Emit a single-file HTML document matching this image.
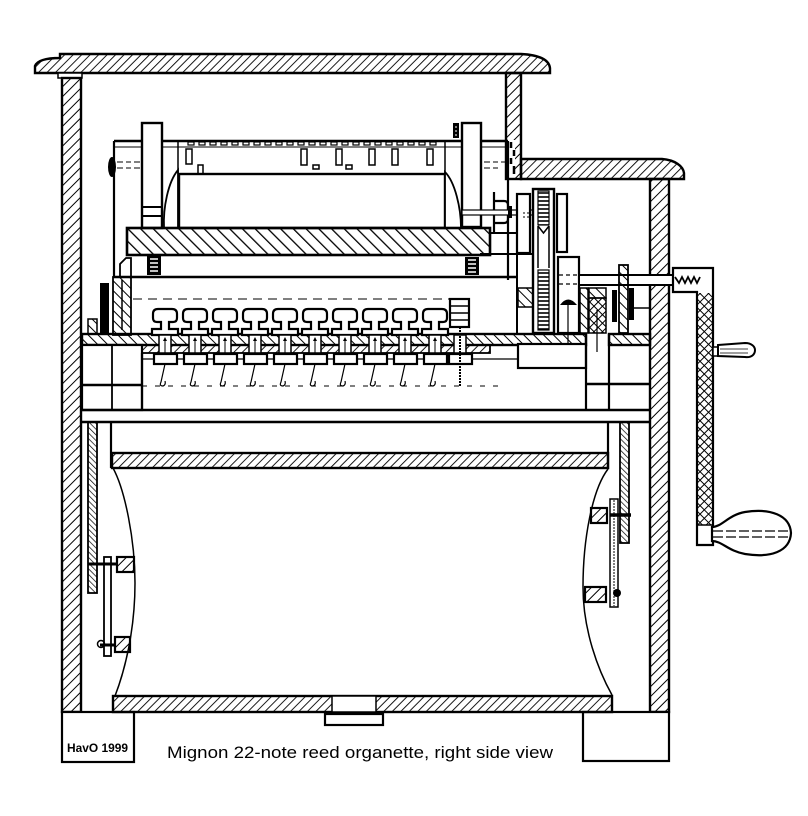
<!DOCTYPE html>
<html><head><meta charset="utf-8"><style>html,body{margin:0;padding:0;background:#fff}svg{display:block}</style></head>
<body>
<svg width="808" height="816" viewBox="0 0 808 816" xmlns="http://www.w3.org/2000/svg">
<defs>
<pattern id="hR" width="6" height="6" patternUnits="userSpaceOnUse" patternTransform="rotate(45)"><line x1="0" y1="0" x2="0" y2="6" stroke="#000" stroke-width="1.8"/></pattern>
<pattern id="hW" width="7" height="7" patternUnits="userSpaceOnUse" patternTransform="rotate(45)"><line x1="0" y1="0" x2="0" y2="7" stroke="#000" stroke-width="2"/></pattern>
<pattern id="hL" width="7" height="7" patternUnits="userSpaceOnUse" patternTransform="rotate(-45)"><line x1="0" y1="0" x2="0" y2="7" stroke="#000" stroke-width="2"/></pattern>
<pattern id="hB" width="9" height="9" patternUnits="userSpaceOnUse" patternTransform="rotate(-45)"><line x1="0" y1="0" x2="0" y2="9" stroke="#000" stroke-width="2.6"/></pattern>
<pattern id="hS" width="4" height="4" patternUnits="userSpaceOnUse" patternTransform="rotate(-45)"><line x1="0" y1="0" x2="0" y2="4" stroke="#000" stroke-width="1.4"/></pattern>
<pattern id="hX" width="6" height="6" patternUnits="userSpaceOnUse" patternTransform="rotate(45)"><path d="M0,0 V6 M0,0 H6" stroke="#000" stroke-width="2"/></pattern>
<pattern id="coil" width="4" height="4" patternUnits="userSpaceOnUse"><line x1="0" y1="1" x2="4" y2="1" stroke="#000" stroke-width="1.6"/></pattern>
<g id="col">
  <path d="M-12,314 Q-12,309 -7,309 L7,309 Q12,309 12,314 L12,318 Q12,322 8,322 L4,322 L4,329 L13,329 L13,335 L-13,335 L-13,329 L-4,329 L-4,322 L-8,322 Q-12,322 -12,318 Z" fill="#fff" stroke="#000" stroke-width="2.2"/>
  <rect x="-6" y="335" width="12" height="18" fill="#fff" stroke="#000" stroke-width="1.5"/>
  <line x1="0" y1="338" x2="0" y2="360" stroke="#000" stroke-width="1"/>
  <path d="M-2,341 L0,337 L2,341 Z" fill="#000"/>
  <rect x="-11" y="354" width="23" height="10" fill="#fff" stroke="#000" stroke-width="2.2"/>
  <path d="M0,364 L-4,382 Q-6,386 -2,386 Q1,385 0,381" fill="none" stroke="#000" stroke-width="1.2"/>
</g>
</defs>

<!-- top lid -->
<path d="M60,54 L521,54 C540,55 549,60 550,68 L550,73 L35,73 L35,66 C37,61 45,58 60,58 Z" fill="url(#hR)" stroke="#000" stroke-width="2.4"/>
<rect x="58" y="73" width="24" height="5" fill="#fff" stroke="#000" stroke-width="1.5"/>
<!-- left wall -->
<rect x="62" y="78" width="19" height="634" fill="url(#hW)" stroke="#000" stroke-width="2.4"/>
<!-- upper right wall -->
<rect x="506" y="73" width="15" height="106" fill="url(#hW)" stroke="#000" stroke-width="2.4"/>
<rect x="509" y="140" width="6" height="36" fill="#fff"/>
<path d="M511,142 v6 M514,150 v6 M511,158 v6 M514,166 v8" stroke="#000" stroke-width="2.5"/>
<!-- second lid -->
<path d="M521,159 L662,159 C675,160 683,166 684,173 L684,179 L521,179 Z" fill="url(#hR)" stroke="#000" stroke-width="2.4"/>
<!-- right lower wall -->
<rect x="650" y="179" width="19" height="533" fill="url(#hW)" stroke="#000" stroke-width="2.4"/>

<!-- bottom boxes -->
<rect x="62" y="712" width="72" height="50" fill="#fff" stroke="#000" stroke-width="2.2"/>
<rect x="583" y="712" width="86" height="49" fill="#fff" stroke="#000" stroke-width="2.2"/>
<line x1="612" y1="712" x2="650" y2="712" stroke="#000" stroke-width="2"/>

<!-- roll frame -->
<line x1="114" y1="141" x2="114" y2="277" stroke="#000" stroke-width="2.2"/>
<line x1="508" y1="141" x2="508" y2="280" stroke="#000" stroke-width="2.2"/>
<line x1="114" y1="141" x2="508" y2="141" stroke="#000" stroke-width="2.4"/>
<line x1="114" y1="147" x2="508" y2="147" stroke="#000" stroke-width="1"/>
<g fill="#fff" stroke="#000" stroke-width="1.2">
<rect x="188" y="142" width="6" height="3"/><rect x="199" y="142" width="6" height="3"/><rect x="210" y="142" width="6" height="3"/><rect x="221" y="142" width="6" height="3"/><rect x="232" y="142" width="6" height="3"/><rect x="243" y="142" width="6" height="3"/><rect x="254" y="142" width="6" height="3"/><rect x="265" y="142" width="6" height="3"/><rect x="276" y="142" width="6" height="3"/><rect x="287" y="142" width="6" height="3"/><rect x="298" y="142" width="6" height="3"/><rect x="309" y="142" width="6" height="3"/><rect x="320" y="142" width="6" height="3"/><rect x="331" y="142" width="6" height="3"/><rect x="342" y="142" width="6" height="3"/><rect x="353" y="142" width="6" height="3"/><rect x="364" y="142" width="6" height="3"/><rect x="375" y="142" width="6" height="3"/><rect x="386" y="142" width="6" height="3"/><rect x="397" y="142" width="6" height="3"/><rect x="408" y="142" width="6" height="3"/><rect x="419" y="142" width="6" height="3"/><rect x="430" y="142" width="6" height="3"/>
</g>
<line x1="178" y1="141" x2="178" y2="228" stroke="#000" stroke-width="1.5"/>
<line x1="445" y1="141" x2="445" y2="228" stroke="#000" stroke-width="1.5"/>
<g fill="#fff" stroke="#000" stroke-width="1.5">
<rect x="186" y="149" width="6" height="15"/><rect x="198" y="165" width="5" height="9"/>
<rect x="301" y="149" width="6" height="16"/><rect x="313" y="165" width="6" height="4"/>
<rect x="336" y="149" width="6" height="16"/><rect x="346" y="165" width="6" height="4"/>
<rect x="369" y="149" width="6" height="16"/><rect x="392" y="149" width="6" height="16"/><rect x="427" y="149" width="6" height="16"/>
</g>
<!-- roller -->
<rect x="179" y="174" width="266" height="54" fill="#fff" stroke="#000" stroke-width="2.4"/>
<!-- flanges -->
<path d="M178,170 C168,182 163,208 164,228 L178,228 Z" fill="#fff" stroke="#000" stroke-width="1.8"/>
<path d="M445,172 C455,182 461,208 461,228 L445,228 Z" fill="#fff" stroke="#000" stroke-width="1.8"/>
<!-- posts -->
<rect x="142" y="123" width="20" height="105" fill="#fff" stroke="#000" stroke-width="2.4"/>
<line x1="142" y1="207" x2="162" y2="207" stroke="#000" stroke-width="2"/>
<line x1="142" y1="216" x2="162" y2="216" stroke="#000" stroke-width="2"/>
<rect x="462" y="123" width="19" height="104" fill="#fff" stroke="#000" stroke-width="2.4"/>
<rect x="453" y="123" width="6" height="15" fill="#000"/>
<path d="M455,127 h2 M455,131 h2 M455,135 h2" stroke="#fff" stroke-width="1"/>
<!-- knob left -->
<ellipse cx="112" cy="167" rx="4" ry="10" fill="#000"/>
<path d="M117,162 h6 M126,162 h5 M134,162 h6 M117,168 h6 M126,168 h5 M134,168 h6" stroke="#000" stroke-width="1"/>
<path d="M484,162 h6 M493,162 h5 M501,162 h4 M484,168 h6 M493,168 h5" stroke="#000" stroke-width="1"/>
<!-- board -->
<rect x="127" y="228" width="363" height="27" fill="url(#hB)" stroke="#000" stroke-width="2.6"/>
<!-- springs -->
<rect x="147" y="256" width="14" height="19" fill="#000"/>
<path d="M150,259 h8 M150,263 h8 M150,267 h8 M150,271 h8" stroke="#fff" stroke-width="1.5"/>
<rect x="465" y="257" width="14" height="18" fill="#000"/>
<path d="M468,260 h8 M468,264 h8 M468,268 h8 M468,272 h8" stroke="#fff" stroke-width="1.5"/>
<path d="M120,276 L120,264 L126,258 L131,258 L131,276" fill="none" stroke="#000" stroke-width="1.8"/>
<line x1="114" y1="277" x2="518" y2="277" stroke="#000" stroke-width="2.4"/>
<line x1="480" y1="254" x2="533" y2="254" stroke="#000" stroke-width="2"/>
<line x1="490" y1="233" x2="517" y2="233" stroke="#000" stroke-width="2"/>
<line x1="517" y1="254" x2="517" y2="334" stroke="#000" stroke-width="2"/>

<!-- right shaft bracket -->
<path d="M494,192 L494,232 M494,201 L504,201 Q508,201 508,205 L508,219 Q508,223 504,223 L494,223" fill="none" stroke="#000" stroke-width="2.2"/>
<rect x="462" y="210" width="71" height="5" fill="#fff" stroke="#000" stroke-width="1.2"/>
<rect x="508" y="206" width="4" height="12" fill="#000"/>
<!-- pulley posts -->
<rect x="517" y="194" width="13" height="59" fill="#fff" stroke="#000" stroke-width="2.2"/>
<rect x="557" y="194" width="10" height="58" fill="#fff" stroke="#000" stroke-width="2.2"/>
<rect x="533" y="189" width="21" height="144" fill="#fff" stroke="#000" stroke-width="2.4"/>
<rect x="538" y="191" width="11" height="34" fill="url(#coil)" stroke="#000" stroke-width="1.2"/>
<rect x="538" y="270" width="11" height="60" fill="url(#coil)" stroke="#000" stroke-width="1.2"/>
<path d="M538,226 L543.5,233 L549,226 M538,226 V268 M549,226 V268" fill="none" stroke="#000" stroke-width="1.5"/>
<path d="M523,213 h2 M527,213 h2 M523,217 h2 M527,217 h2" stroke="#000" stroke-width="1"/>
<!-- box with arrow -->
<rect x="558" y="257" width="21" height="76" fill="#fff" stroke="#000" stroke-width="2.2"/>
<path d="M560,305 Q568,294 577,305 Z" fill="#000"/>
<line x1="568" y1="305" x2="568" y2="355" stroke="#000" stroke-width="1.2"/>
<path d="M559,275 h4 M566,275 h4 M573,275 h4 M559,284 h4 M566,284 h4 M573,284 h4" stroke="#000" stroke-width="1.2"/>
<!-- crank shaft -->
<rect x="579" y="275" width="94" height="10" fill="#fff" stroke="#000" stroke-width="2"/>
<!-- right hatched pieces -->
<rect x="518" y="288" width="15" height="19" fill="url(#hL)" stroke="#000" stroke-width="1.5"/>
<rect x="580" y="288" width="8" height="45" fill="url(#hL)" stroke="#000" stroke-width="1.5"/>
<rect x="589" y="288" width="17" height="10" fill="url(#hL)" stroke="#000" stroke-width="1.5"/>
<rect x="589" y="298" width="17" height="35" fill="url(#hX)" stroke="#000" stroke-width="1.5"/>
<line x1="597" y1="310" x2="597" y2="352" stroke="#000" stroke-width="1.2"/>
<rect x="619" y="265" width="9" height="68" fill="url(#hL)" stroke="#000" stroke-width="1.8"/>
<rect x="612" y="290" width="5" height="32" fill="#000"/>
<rect x="629" y="288" width="5" height="32" fill="#000"/>
<line x1="634" y1="308" x2="650" y2="308" stroke="#000" stroke-width="1.5"/>

<!-- left upper mechanism -->
<rect x="100" y="283" width="9" height="52" fill="#000"/>
<rect x="88" y="319" width="9" height="15" fill="url(#hL)" stroke="#000" stroke-width="1.5"/>
<rect x="113" y="277" width="18" height="58" fill="url(#hL)" stroke="#000" stroke-width="1.8"/>
<line x1="122" y1="280" x2="122" y2="330" stroke="#000" stroke-width="1.5"/>

<!-- windchest -->
<rect x="82" y="334" width="504" height="11" fill="url(#hL)" stroke="#000" stroke-width="2.4"/>
<rect x="609" y="334" width="41" height="11" fill="url(#hL)" stroke="#000" stroke-width="2.4"/>
<rect x="142" y="345" width="348" height="8" fill="url(#hR)" stroke="#000" stroke-width="1.8"/>
<rect x="82" y="345" width="60" height="65" fill="#fff" stroke="#000" stroke-width="2.2"/>
<line x1="112" y1="345" x2="112" y2="410" stroke="#000" stroke-width="1.8"/>
<line x1="82" y1="385" x2="142" y2="385" stroke="#000" stroke-width="2.6"/>
<line x1="142" y1="353" x2="142" y2="410" stroke="#000" stroke-width="2.2"/>
<line x1="142" y1="359" x2="518" y2="359" stroke="#000" stroke-width="1.2"/>
<rect x="518" y="344" width="68" height="24" fill="#fff" stroke="#000" stroke-width="2.2"/>
<line x1="586" y1="334" x2="586" y2="410" stroke="#000" stroke-width="2.2"/>
<line x1="609" y1="334" x2="609" y2="410" stroke="#000" stroke-width="2.2"/>
<line x1="586" y1="384" x2="650" y2="384" stroke="#000" stroke-width="2.6"/>
<line x1="142" y1="386" x2="500" y2="386" stroke="#000" stroke-width="1" stroke-dasharray="5,8"/>
<line x1="133" y1="299" x2="450" y2="299" stroke="#000" stroke-width="1" stroke-dasharray="9,6"/>
<use href="#col" x="165"/><use href="#col" x="195"/><use href="#col" x="225"/><use href="#col" x="255"/><use href="#col" x="285"/>
<use href="#col" x="315"/><use href="#col" x="345"/><use href="#col" x="375"/><use href="#col" x="405"/><use href="#col" x="435"/>
<!-- 11th -->
<rect x="450" y="299" width="19" height="28" fill="#fff" stroke="#000" stroke-width="2.2"/>
<path d="M450,306 h19 M450,313 h19 M450,320 h19" stroke="#000" stroke-width="1.5"/>
<rect x="454" y="335" width="12" height="18" fill="#fff" stroke="#000" stroke-width="1.5"/>
<rect x="449" y="354" width="23" height="10" fill="#fff" stroke="#000" stroke-width="2.2"/>
<line x1="460" y1="327" x2="460" y2="386" stroke="#000" stroke-width="2" stroke-dasharray="2,1"/>

<!-- bar -->
<line x1="81" y1="410" x2="650" y2="410" stroke="#000" stroke-width="2.6"/>
<line x1="81" y1="422" x2="650" y2="422" stroke="#000" stroke-width="2.6"/>

<!-- bellows -->
<line x1="111" y1="422" x2="111" y2="468" stroke="#000" stroke-width="2.2"/>
<line x1="608" y1="422" x2="608" y2="469" stroke="#000" stroke-width="2.2"/>
<rect x="88" y="422" width="9" height="171" fill="url(#hS)" stroke="#000" stroke-width="1.8"/>
<rect x="620" y="422" width="9" height="121" fill="url(#hS)" stroke="#000" stroke-width="1.8"/>
<rect x="112" y="453" width="496" height="15" fill="url(#hR)" stroke="#000" stroke-width="2.4"/>
<path d="M113,468 C125,490 135,540 135,583 C135,630 125,670 115,696" fill="none" stroke="#000" stroke-width="1.5"/>
<path d="M608,469 C592,490 583,540 583,587 C583,630 598,670 612,695" fill="none" stroke="#000" stroke-width="1.5"/>
<rect x="113" y="696" width="499" height="16" fill="url(#hR)" stroke="#000" stroke-width="2.4"/>
<rect x="332" y="696" width="44" height="16" fill="#fff" stroke="#000" stroke-width="1.5"/>
<rect x="325" y="714" width="58" height="11" fill="#fff" stroke="#000" stroke-width="2.2"/>

<!-- left linkage -->
<rect x="104" y="557" width="7" height="99" fill="#fff" stroke="#000" stroke-width="1.8"/>
<line x1="88" y1="564" x2="117" y2="564" stroke="#000" stroke-width="3"/>
<rect x="117" y="557" width="17" height="15" fill="url(#hW)" stroke="#000" stroke-width="2.2"/>
<rect x="115" y="637" width="15" height="15" fill="url(#hW)" stroke="#000" stroke-width="2.2"/>
<line x1="100" y1="645" x2="115" y2="645" stroke="#000" stroke-width="3"/>
<circle cx="101" cy="644" r="3.5" fill="none" stroke="#000" stroke-width="1.5"/>
<!-- right linkage -->
<rect x="591" y="508" width="16" height="15" fill="url(#hW)" stroke="#000" stroke-width="2.2"/>
<rect x="585" y="587" width="21" height="15" fill="url(#hW)" stroke="#000" stroke-width="2.2"/>
<rect x="610" y="499" width="8" height="108" fill="#fff" stroke="#000" stroke-width="1.5"/>
<line x1="614" y1="500" x2="614" y2="606" stroke="#000" stroke-width="1" stroke-dasharray="2,1"/>
<line x1="610" y1="515" x2="631" y2="515" stroke="#000" stroke-width="3.5"/>
<circle cx="617" cy="593" r="4" fill="#000"/>

<!-- crank -->
<path d="M673,268 L713,268 L713,545 L697,545 L697,292 L673,292 Z" fill="#fff" stroke="#000" stroke-width="2.2"/>
<rect x="698" y="293" width="14" height="232" fill="url(#hX)"/>
<line x1="697" y1="525" x2="713" y2="525" stroke="#000" stroke-width="1.5"/>
<path d="M675,277 l4,6 l3,-6 l3,6 l3,-6 l3,6 l3,-6 l3,6 l3,-6" fill="none" stroke="#000" stroke-width="1.8"/>
<rect x="713" y="347" width="5" height="9" fill="#fff" stroke="#000" stroke-width="1.5"/>
<path d="M718,345 L745,343 C752,343 755,347 755,350 C755,354 752,358 745,357 L718,356 Z" fill="#fff" stroke="#000" stroke-width="2"/>
<path d="M720,349 H748 M720,353 H748" stroke="#000" stroke-width="0.8"/>
<path d="M712,527 C722,527 728,515 745,512 C770,508 790,515 791,533 C790,552 770,558 745,554 C728,551 722,541 712,541 Z" fill="#fff" stroke="#000" stroke-width="2.2"/>
<path d="M713,531 H788 M713,537 H788" stroke="#000" stroke-width="1.2" stroke-dasharray="10,3"/>

<!-- text -->
<text x="67" y="752" font-family="Liberation Sans, Arial, sans-serif" font-size="12" font-weight="bold" fill="#000" textLength="61" lengthAdjust="spacingAndGlyphs">HavO 1999</text>
<text x="167" y="758" font-family="Liberation Sans, Arial, sans-serif" font-size="17" fill="#000" textLength="386" lengthAdjust="spacingAndGlyphs">Mignon 22-note reed organette, right side view</text>
</svg>
</body></html>
